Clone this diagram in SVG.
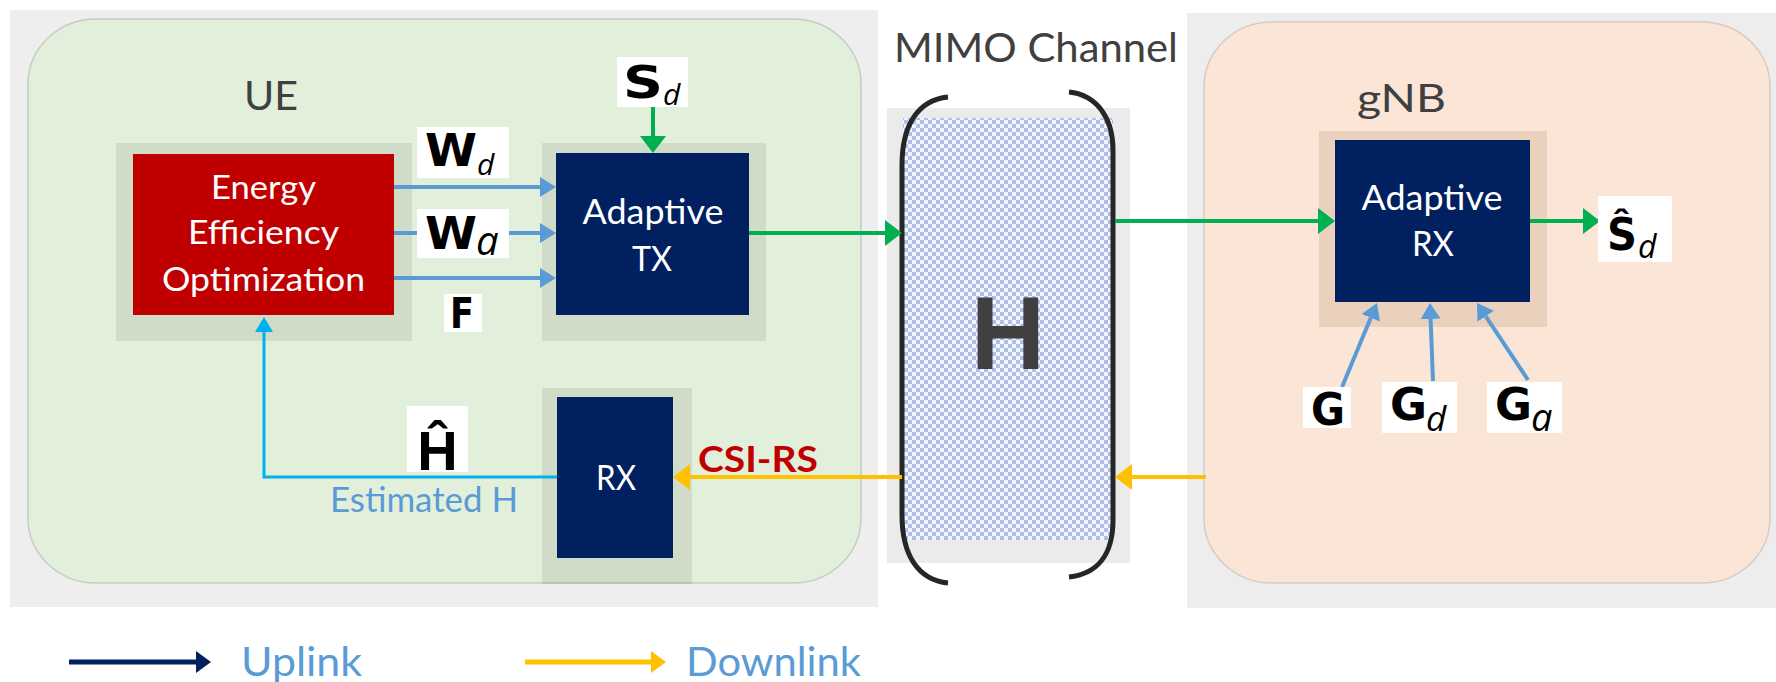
<svg xmlns="http://www.w3.org/2000/svg" width="1776" height="682" viewBox="0 0 1776 682">
<style>
.lbl{font-family:Lato,"Open Sans",sans-serif;}
.wt{fill:#FFFFFF;}
.big{font-family:Lato,"Open Sans",sans-serif;fill:#404040;}
.math{font-family:"DejaVu Sans",sans-serif;font-weight:bold;fill:#000;}
.sub{font-family:"Open Sans","Noto Sans",sans-serif;font-style:italic;fill:#000;}
.wbox{fill:#FFFFFF;}
.shadow{fill:#000;opacity:0.08;}
.navy{fill:#002060;}
.blue{stroke:#5B9BD5;stroke-width:4;fill:none;}
.green{stroke:#00B050;stroke-width:4;fill:none;}
.yellow{stroke:#FFC000;stroke-width:4;fill:none;}
.cyan{stroke:#00B0F0;stroke-width:3;fill:none;}
.brk{stroke:#262626;stroke-width:5;fill:none;stroke-linecap:butt;}
</style>
<defs>
<pattern id="checker" patternUnits="userSpaceOnUse" width="8" height="8">
<rect width="8" height="8" fill="#F2F5FC"/>
<rect x="0" y="0" width="4" height="4" fill="#AEC0EA"/>
<rect x="4" y="4" width="4" height="4" fill="#AEC0EA"/>
</pattern>
<marker id="mBlue" markerUnits="userSpaceOnUse" markerWidth="16" markerHeight="20" refX="0" refY="10" orient="auto"><path d="M0,0 L16,10 L0,20 z" fill="#5B9BD5"/></marker>
<marker id="mGreen" markerUnits="userSpaceOnUse" markerWidth="17" markerHeight="26" refX="0" refY="13" orient="auto"><path d="M0,0 L17,13 L0,26 z" fill="#00B050"/></marker>
<marker id="mYellow" markerUnits="userSpaceOnUse" markerWidth="17" markerHeight="26" refX="0" refY="13" orient="auto"><path d="M0,0 L17,13 L0,26 z" fill="#FFC000"/></marker>
<marker id="mCyan" markerUnits="userSpaceOnUse" markerWidth="15" markerHeight="18" refX="0" refY="9" orient="auto"><path d="M0,0 L15,9 L0,18 z" fill="#00B0F0"/></marker>
<marker id="mNavy" markerUnits="userSpaceOnUse" markerWidth="15" markerHeight="22" refX="0" refY="11" orient="auto"><path d="M0,0 L15,11 L0,22 z" fill="#002060"/></marker>
<marker id="mYel2" markerUnits="userSpaceOnUse" markerWidth="15" markerHeight="22" refX="0" refY="11" orient="auto"><path d="M0,0 L15,11 L0,22 z" fill="#FFC000"/></marker>
</defs>

<rect width="1776" height="682" fill="#FFFFFF"/>

<g id="ue-region">
<rect x="10" y="10" width="868" height="597" fill="#EDEEED"/>
<rect x="28" y="19" width="833" height="564" rx="68" ry="65" fill="#E2EFDA" stroke="#C5CCC1" stroke-width="1.5"/>
<text class="big" x="244" y="110" font-size="40" textLength="54" lengthAdjust="spacingAndGlyphs">UE</text>
</g>

<g id="gnb-region">
<rect x="1187" y="13" width="589" height="595" fill="#EDEDED"/>
<rect x="1204" y="22" width="566" height="561" rx="68" ry="65" fill="#FBE5D6" stroke="#D6CCC4" stroke-width="1.5"/>
<text class="big" x="1357" y="112" font-size="38" textLength="89" lengthAdjust="spacingAndGlyphs">gNB</text>
</g>

<g id="channel">
<text class="big" x="894" y="62" font-size="40" textLength="284" lengthAdjust="spacingAndGlyphs">MIMO Channel</text>
<rect x="887" y="108" width="243" height="455" fill="#EBEBEB"/>
<rect x="903" y="118" width="210" height="422" fill="url(#checker)"/>
<path class="brk" d="M948,97 C918,100 902,125 902,165 L902,515 C902,555 918,580 948,583"/>
<path class="brk" d="M1069,92 C1097,95 1113,118 1113,150 L1113,520 C1113,555 1097,574 1069,577"/>
<text x="1008" y="369" font-family="Liberation Sans, Arial, sans-serif" font-weight="bold" font-size="103" fill="#404040" text-anchor="middle">H</text>
</g>

<g id="ee-opt">
<rect class="shadow" x="116" y="143" width="296" height="198"/>
<rect x="133" y="154" width="261" height="161" fill="#C00000"/>
<text class="lbl wt" x="263.5" y="199" font-size="32" text-anchor="middle" textLength="105" lengthAdjust="spacingAndGlyphs">Energy</text>
<text class="lbl wt" x="263.5" y="244" font-size="32" text-anchor="middle" textLength="151" lengthAdjust="spacingAndGlyphs">Efficiency</text>
<text class="lbl wt" x="263.5" y="291" font-size="32" text-anchor="middle" textLength="203" lengthAdjust="spacingAndGlyphs">Optimization</text>
</g>

<g id="adaptive-tx">
<rect class="shadow" x="542" y="143" width="224" height="198"/>
<rect class="navy" x="556" y="153" width="193" height="162"/>
<text class="lbl wt" x="653" y="224" font-size="35" text-anchor="middle" textLength="141" lengthAdjust="spacingAndGlyphs">Adaptive</text>
<text class="lbl wt" x="652" y="271" font-size="35" text-anchor="middle" textLength="40" lengthAdjust="spacingAndGlyphs">TX</text>
</g>

<g id="ue-rx">
<rect class="shadow" x="542" y="388" width="150" height="196"/>
<rect class="navy" x="557" y="397" width="116" height="161"/>
<text class="lbl wt" x="616" y="490" font-size="35" text-anchor="middle" textLength="40" lengthAdjust="spacingAndGlyphs">RX</text>
</g>

<g id="adaptive-rx">
<rect x="1319" y="131" width="228" height="196" fill="#E3C9B6" opacity="0.75"/>
<rect class="navy" x="1335" y="140" width="195" height="162"/>
<text class="lbl wt" x="1432" y="210" font-size="35" text-anchor="middle" textLength="141" lengthAdjust="spacingAndGlyphs">Adaptive</text>
<text class="lbl wt" x="1433" y="256" font-size="35" text-anchor="middle" textLength="42" lengthAdjust="spacingAndGlyphs">RX</text>
</g>

<g id="connectors">
<line class="blue" x1="394" y1="187" x2="540" y2="187" marker-end="url(#mBlue)"/>
<line class="blue" x1="394" y1="233" x2="540" y2="233" marker-end="url(#mBlue)"/>
<line class="blue" x1="394" y1="278" x2="540" y2="278" marker-end="url(#mBlue)"/>
<line class="green" x1="653" y1="107" x2="653" y2="136" marker-end="url(#mGreen)"/>
<line class="green" x1="749" y1="233" x2="885" y2="233" marker-end="url(#mGreen)"/>
<line class="green" x1="1115" y1="221" x2="1318" y2="221" marker-end="url(#mGreen)"/>
<line class="green" x1="1530" y1="221" x2="1583" y2="221" marker-end="url(#mGreen)"/>
<line class="yellow" x1="1206" y1="477" x2="1132" y2="477" marker-end="url(#mYellow)"/>
<line class="yellow" x1="902" y1="477" x2="690" y2="477" marker-end="url(#mYellow)"/>
<path class="cyan" d="M557,477 H264 V332" marker-end="url(#mCyan)"/>
<line class="blue" x1="1342" y1="387" x2="1370.8" y2="317.8" marker-end="url(#mBlue)"/>
<line class="blue" x1="1433" y1="381" x2="1430.6" y2="319" marker-end="url(#mBlue)"/>
<line class="blue" x1="1528" y1="380" x2="1485.8" y2="316.3" marker-end="url(#mBlue)"/>
</g>

<g id="label-wd">
<rect class="wbox" x="417" y="127" width="92" height="51"/>
<text class="math" x="425" y="166" font-size="44" textLength="52" lengthAdjust="spacingAndGlyphs">W</text>
<text class="sub" x="477" y="175" font-size="30">d</text>
</g>
<g id="label-wa">
<rect class="wbox" x="417" y="209" width="92" height="49"/>
<text class="math" x="425" y="249" font-size="44" textLength="52" lengthAdjust="spacingAndGlyphs">W</text>
<text class="sub" x="476" y="255" font-size="40">a</text>
</g>
<g id="label-f">
<rect class="wbox" x="444" y="294" width="38" height="38"/>
<text class="math" x="450" y="328" font-size="42" textLength="24" lengthAdjust="spacingAndGlyphs">F</text>
</g>
<g id="label-sd">
<rect class="wbox" x="617" y="57" width="71" height="50"/>
<text class="math" x="623" y="98" font-size="45" textLength="40" lengthAdjust="spacingAndGlyphs">S</text>
<text class="sub" x="663" y="105" font-size="30">d</text>
</g>
<g id="label-shat">
<rect class="wbox" x="1598" y="196" width="74" height="66"/>
<text class="math" x="1607" y="250" font-size="45" textLength="30" lengthAdjust="spacingAndGlyphs">Ŝ</text>
<text class="sub" x="1638" y="258" font-size="32">d</text>
</g>
<g id="label-hhat">
<rect class="wbox" x="407" y="406" width="61" height="66"/>
<text x="437.5" y="470" font-family="Liberation Sans, Arial, sans-serif" font-weight="bold" font-size="56" text-anchor="middle" fill="#000">Ĥ</text>
</g>
<g id="label-g">
<rect class="wbox" x="1303" y="387" width="48" height="41"/>
<text class="math" x="1311" y="425" font-size="44" textLength="34" lengthAdjust="spacingAndGlyphs">G</text>
</g>
<g id="label-gd">
<rect class="wbox" x="1382" y="382" width="75" height="51"/>
<text class="math" x="1390" y="420" font-size="44" textLength="37" lengthAdjust="spacingAndGlyphs">G</text>
<text class="sub" x="1426" y="431" font-size="35">d</text>
</g>
<g id="label-ga">
<rect class="wbox" x="1487" y="382" width="75" height="51"/>
<text class="math" x="1495" y="420" font-size="44" textLength="37" lengthAdjust="spacingAndGlyphs">G</text>
<text class="sub" x="1531" y="431" font-size="38">a</text>
</g>

<g id="texts">
<text class="lbl" x="698" y="472" font-size="37" font-weight="bold" fill="#C00000" textLength="120" lengthAdjust="spacingAndGlyphs">CSI-RS</text>
<text class="lbl" x="330" y="512" font-size="35" fill="#5B9BD5" textLength="188" lengthAdjust="spacingAndGlyphs">Estimated H</text>
</g>

<g id="legend">
<line x1="69" y1="662" x2="196" y2="662" stroke="#002060" stroke-width="5" marker-end="url(#mNavy)"/>
<text class="lbl" x="241" y="676" font-size="40" fill="#5B9BD5" textLength="121" lengthAdjust="spacingAndGlyphs">Uplink</text>
<line x1="525" y1="662" x2="651" y2="662" stroke="#FFC000" stroke-width="5" marker-end="url(#mYel2)"/>
<text class="lbl" x="686" y="676" font-size="40" fill="#5B9BD5" textLength="175" lengthAdjust="spacingAndGlyphs">Downlink</text>
</g>
</svg>
